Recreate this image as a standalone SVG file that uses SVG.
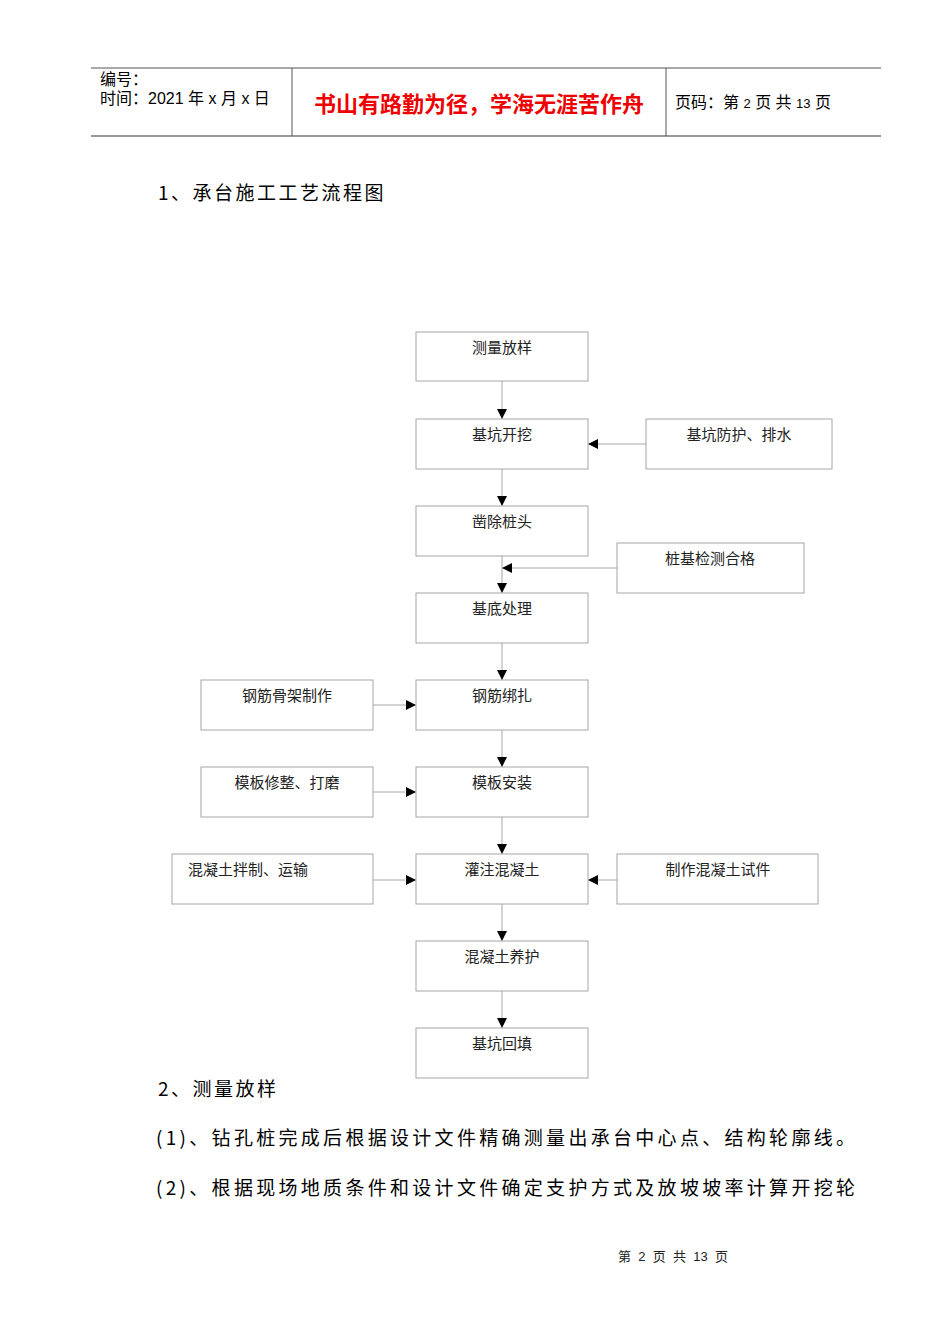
<svg xmlns="http://www.w3.org/2000/svg" width="950" height="1344" viewBox="0 0 950 1344">
<style>
.b{fill:#fff;stroke:#a6a6a6;stroke-width:1}
.t{font-family:"Noto Sans CJK SC",sans-serif;font-size:15px;fill:#222;text-anchor:middle}
.c{stroke:#a6a6a6;stroke-width:1;fill:none}
.h{font-family:"Liberation Sans","Noto Sans CJK SC",sans-serif;font-size:16px;fill:#000}
.p{font-family:"Noto Sans CJK SC",sans-serif;font-size:19px;fill:#000;letter-spacing:3.3px}
</style>
<defs><marker id="a" viewBox="0 0 10 10" refX="10" refY="5" markerWidth="10" markerHeight="10" markerUnits="userSpaceOnUse" orient="auto"><path d="M0,0L10,5L0,10z" fill="#000"/></marker></defs>
<g id="header">
<line x1="91" y1="68" x2="881" y2="68" stroke="#555" stroke-width="1"/>
<line x1="91" y1="136" x2="881" y2="136" stroke="#777" stroke-width="1.5"/>
<line x1="292" y1="68" x2="292" y2="136" stroke="#555"/>
<line x1="666" y1="68" x2="666" y2="136" stroke="#555"/>
<text class="h" x="100" y="85">编号：</text>
<text class="h" x="100" y="104">时间：2021 年 x 月 x 日</text>
<text x="479" y="112" text-anchor="middle" font-family="Noto Sans CJK SC,sans-serif" font-size="22" font-weight="bold" fill="#e00">书山有路勤为径，学海无涯苦作舟</text>
<text class="h" x="675" y="108">页码：第 <tspan font-size="13">2</tspan> 页  共 <tspan font-size="13">13</tspan> 页</text>
</g>
<text class="p" x="158" y="200" style="letter-spacing:2.5px">1、承台施工工艺流程图</text>
<g id="connectors">
<line class="c" x1="502" y1="381" x2="502" y2="419" marker-end="url(#a)"/>
<line class="c" x1="502" y1="469" x2="502" y2="506" marker-end="url(#a)"/>
<line class="c" x1="502" y1="556" x2="502" y2="593" marker-end="url(#a)"/>
<line class="c" x1="502" y1="643" x2="502" y2="680" marker-end="url(#a)"/>
<line class="c" x1="502" y1="730" x2="502" y2="767" marker-end="url(#a)"/>
<line class="c" x1="502" y1="817" x2="502" y2="854" marker-end="url(#a)"/>
<line class="c" x1="502" y1="904" x2="502" y2="941" marker-end="url(#a)"/>
<line class="c" x1="502" y1="991" x2="502" y2="1028" marker-end="url(#a)"/>
<line class="c" x1="646" y1="444" x2="588" y2="444" marker-end="url(#a)"/>
<line class="c" x1="617" y1="568" x2="502" y2="568" marker-end="url(#a)"/>
<line class="c" x1="373" y1="705" x2="416" y2="705" marker-end="url(#a)"/>
<line class="c" x1="373" y1="792" x2="416" y2="792" marker-end="url(#a)"/>
<line class="c" x1="373" y1="880" x2="416" y2="880" marker-end="url(#a)"/>
<line class="c" x1="617" y1="880" x2="588" y2="880" marker-end="url(#a)"/>
</g>
<g id="n1"><rect class="b" x="416" y="332" width="172" height="49"/><text class="t" x="502" y="353">测量放样</text></g>
<g id="n2"><rect class="b" x="416" y="419" width="172" height="50"/><text class="t" x="502" y="440">基坑开挖</text></g>
<g id="n3"><rect class="b" x="416" y="506" width="172" height="50"/><text class="t" x="502" y="527">凿除桩头</text></g>
<g id="n4"><rect class="b" x="416" y="593" width="172" height="50"/><text class="t" x="502" y="614">基底处理</text></g>
<g id="n5"><rect class="b" x="416" y="680" width="172" height="50"/><text class="t" x="502" y="701">钢筋绑扎</text></g>
<g id="n6"><rect class="b" x="416" y="767" width="172" height="50"/><text class="t" x="502" y="788">模板安装</text></g>
<g id="n7"><rect class="b" x="416" y="854" width="172" height="50"/><text class="t" x="502" y="875">灌注混凝土</text></g>
<g id="n8"><rect class="b" x="416" y="941" width="172" height="50"/><text class="t" x="502" y="962">混凝土养护</text></g>
<g id="n9"><rect class="b" x="416" y="1028" width="172" height="50"/><text class="t" x="502" y="1049">基坑回填</text></g>
<g id="s1"><rect class="b" x="646" y="419" width="186" height="50"/><text class="t" x="739" y="440">基坑防护、排水</text></g>
<g id="s2"><rect class="b" x="617" y="543" width="187" height="50"/><text class="t" x="710" y="564">桩基检测合格</text></g>
<g id="s3"><rect class="b" x="201" y="680" width="172" height="50"/><text class="t" x="287" y="701">钢筋骨架制作</text></g>
<g id="s4"><rect class="b" x="201" y="767" width="172" height="50"/><text class="t" x="287" y="788">模板修整、打磨</text></g>
<g id="s5"><rect class="b" x="172" y="854" width="201" height="50"/><text class="t" x="248" y="875">混凝土拌制、运输</text></g>
<g id="s6"><rect class="b" x="617" y="854" width="201" height="50"/><text class="t" x="718" y="875">制作混凝土试件</text></g>
<text class="p" x="158" y="1096" style="letter-spacing:2.5px">2、测量放样</text>
<text class="p" x="156" y="1145">(1)、钻孔桩完成后根据设计文件精确测量出承台中心点、结构轮廓线。</text>
<text class="p" x="156" y="1195">(2)、根据现场地质条件和设计文件确定支护方式及放坡坡率计算开挖轮</text>
<text x="673" y="1261" text-anchor="middle" font-family="Liberation Sans,Noto Sans CJK SC,sans-serif" font-size="13" fill="#222" style="white-space:pre">第  2  页  共  13  页</text>
</svg>
